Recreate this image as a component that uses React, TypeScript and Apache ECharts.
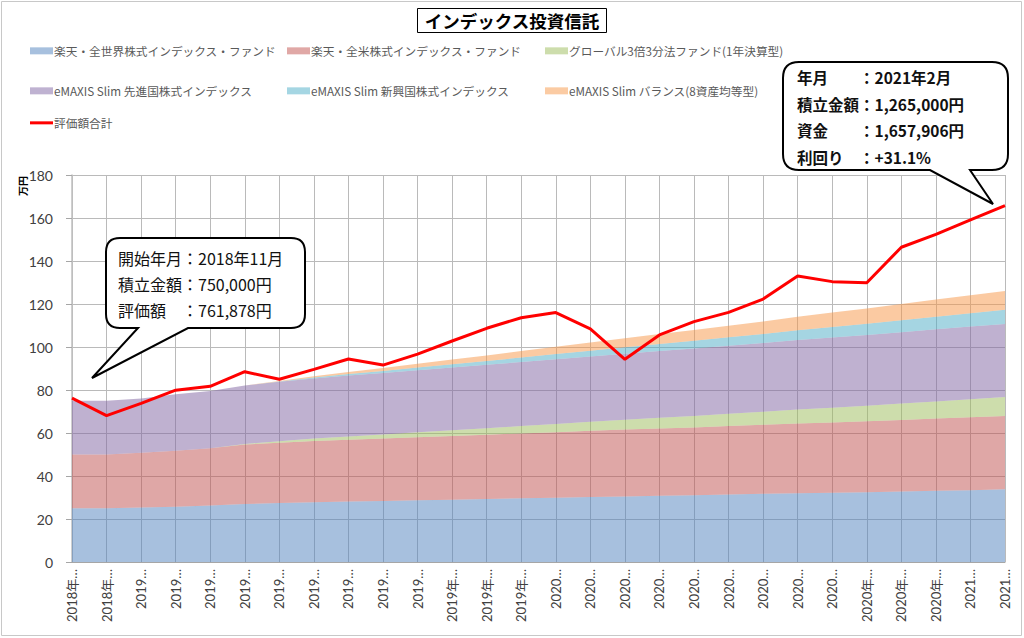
import React, { useEffect, useRef } from "react";
import * as echarts from "echarts";

// ---------- data (unit: 万円) ----------
const categories = [
  "2018年11月", "2018年12月",
  "2019年1月", "2019年2月", "2019年3月", "2019年4月", "2019年5月", "2019年6月",
  "2019年7月", "2019年8月", "2019年9月", "2019年10月", "2019年11月", "2019年12月",
  "2020年1月", "2020年2月", "2020年3月", "2020年4月", "2020年5月", "2020年6月",
  "2020年7月", "2020年8月", "2020年9月", "2020年10月", "2020年11月", "2020年12月",
  "2021年1月", "2021年2月",
];

const seriesNames = [
  "楽天・全世界株式インデックス・ファンド",
  "楽天・全米株式インデックス・ファンド",
  "グローバル3倍3分法ファンド(1年決算型)",
  "eMAXIS Slim 先進国株式インデックス",
  "eMAXIS Slim 新興国株式インデックス",
  "eMAXIS Slim バランス(8資産均等型)",
  "評価額合計",
];

const rakutenWorld = [25, 25, 25.3, 25.7, 26.3, 27.0, 27.4, 27.8, 28.1, 28.4, 28.7, 29.0, 29.3, 29.6, 29.9, 30.2, 30.5, 30.8, 31.1, 31.4, 31.7, 32.0, 32.2, 32.5, 32.8, 33.1, 33.4, 33.8];
const rakutenUS = [25, 25, 25.5, 26.1, 26.6, 27.6, 28.1, 28.5, 28.8, 29.0, 29.3, 29.6, 29.9, 30.2, 30.5, 30.8, 31.1, 31.3, 31.5, 31.8, 32.1, 32.4, 32.7, 33.0, 33.3, 33.6, 33.9, 34.1];
const global3x = [0, 0, 0, 0, 0, 0.3, 0.7, 1.1, 1.5, 1.9, 2.3, 2.7, 3.0, 3.4, 3.8, 4.2, 4.6, 5.0, 5.3, 5.7, 6.1, 6.5, 6.9, 7.2, 7.6, 8.0, 8.4, 8.8];
const slimDeveloped = [25, 25, 25.3, 26.2, 26.6, 27.2, 27.6, 28.0, 28.3, 28.6, 28.9, 29.2, 29.5, 29.8, 30.1, 30.4, 30.7, 31.0, 31.4, 31.7, 32.0, 32.3, 32.6, 32.9, 33.2, 33.5, 33.8, 34.0];
const slimEmerging = [0, 0, 0, 0, 0, 0, 0.2, 0.45, 0.7, 0.95, 1.25, 1.5, 1.8, 2.1, 2.4, 2.7, 3.0, 3.3, 3.6, 3.9, 4.2, 4.6, 4.9, 5.2, 5.6, 5.9, 6.2, 6.6];
const slimBalance = [0, 0, 0, 0, 0, 0, 0.2, 0.6, 1.0, 1.4, 1.8, 2.2, 2.6, 3.0, 3.4, 3.8, 4.2, 4.6, 5.0, 5.4, 5.8, 6.3, 6.7, 7.1, 7.5, 8.0, 8.4, 8.8];
const valuationTotal = [76.2, 68.1, 73.8, 79.9, 81.7, 88.5, 85.0, 89.6, 94.4, 91.6, 96.7, 102.8, 108.7, 113.6, 116.0, 108.4, 94.3, 105.6, 111.8, 116.1, 122.3, 133.0, 130.4, 129.9, 146.4, 152.4, 159.1, 165.8];

const yTicks = { min: 0, max: 180, interval: 20 };

const bubble1Lines = ["開始年月：2018年11月", "積立金額：750,000円", "評価額　：761,878円"];
const bubble2Lines = ["年月　　：2021年2月", "積立金額：1,265,000円", "資金　　：1,657,906円", "利回り　：+31.1%"];

// ---------- styles ----------
const baseColors = ["#4F81BD", "#C0504D", "#9BBB59", "#8064A2", "#4BACC6", "#F79646"];
const lightColors = ["#A7C0DE", "#E0A8A6", "#CDDDAC", "#BFB2D1", "#A5D6E3", "#FBCBA3"];
const JP = '"Noto Sans CJK JP", sans-serif';
const NUM = 'Lato, "Noto Sans CJK JP", sans-serif';

const bubble1Path =
  "M120 238 L291 238 Q305 238 305 252 L305 314 Q305 328 291 328 L188 328 L92 378 L138 328 L120 328 Q106 328 106 314 L106 252 Q106 238 120 238 Z";
const bubble2Path =
  "M799 62 L992 62 Q1008 62 1008 78 L1008 154 Q1008 170 992 170 L970 170 L993 204 L930 170 L799 170 Q783 170 783 154 L783 78 Q783 62 799 62 Z";

let registered = false;
function registerShapes() {
  if (registered) return;
  registered = true;
  echarts.graphic.registerShape("bubble1", echarts.graphic.extendPath(bubble1Path, {}));
  echarts.graphic.registerShape("bubble2", echarts.graphic.extendPath(bubble2Path, {}));
}

function xLabel(v: string) {
  const m = v.match(/^(\d+)年(\d+)月$/);
  if (!m) return v;
  return m[2].length === 2 ? m[1] + "年…" : m[1] + "…";
}

export default function App() {
  const ref = useRef<HTMLDivElement>(null);

  useEffect(() => {
    if (!ref.current) return;
    registerShapes();
    const chart = echarts.init(ref.current, undefined, { renderer: "svg" });

    const areaData = [rakutenWorld, rakutenUS, global3x, slimDeveloped, slimEmerging, slimBalance];
    const areaSeries = areaData.map((d, i) => ({
      name: seriesNames[i],
      type: "line",
      stack: "cost",
      data: d,
      symbol: "none",
      itemStyle: { color: lightColors[i] },
      lineStyle: { width: 0, color: lightColors[i] },
      areaStyle: { color: baseColors[i], opacity: 0.5 },
      z: 2,
    }));

    const legendPos = [
      [30, 45], [287, 45], [545, 45],
      [30, 85], [287, 85], [545, 85],
      [30, 117],
    ];
    const legends = seriesNames.map((n, i) => ({
      data: [{ name: n, itemStyle: { color: i < 6 ? lightColors[i] : "#FF0000" } }],
      left: legendPos[i][0],
      top: legendPos[i][1],
      padding: 0,
      icon: "rect",
      itemWidth: 23,
      itemHeight: i < 6 ? 7 : 3,
      selectedMode: false,
      textStyle: { fontSize: 11.7, color: "#595959", fontFamily: JP, padding: [0, 0, 0, -4] },
    }));

    const bubbleText = (lines: string[], x: number, y0: number, dy: number, size: number, bold: boolean) =>
      lines.map((t, i) => ({
        type: "text",
        x,
        y: y0 + i * dy,
        z: 101,
        style: {
          text: t,
          fill: "#111",
          font: `${bold ? "bold " : ""}${size}px ${JP}`,
          verticalAlign: "middle",
          align: "left",
        },
      }));

    chart.setOption({
      animation: false,
      backgroundColor: "#fff",
      title: {
        text: "インデックス投資信託",
        left: "center",
        top: 8,
        padding: [4, 7, 3, 7],
        borderColor: "#000",
        borderWidth: 1,
        textStyle: { fontSize: 17.5, fontWeight: "bold", color: "#000", fontFamily: JP },
      },
      legend: legends,
      grid: { left: 72, right: 19, top: 175, bottom: 76, containLabel: false },
      xAxis: {
        type: "category",
        data: categories,
        boundaryGap: false,
        axisLine: { lineStyle: { color: "#a6a6a6", width: 1 } },
        axisTick: { show: false },
        splitLine: { show: true, lineStyle: { color: "#bababa", width: 1 } },
        axisLabel: {
          rotate: 90,
          interval: 0,
          margin: 7,
          fontSize: 13,
          color: "#404040",
          fontFamily: NUM,
          formatter: xLabel,
        },
      },
      yAxis: {
        type: "value",
        min: yTicks.min,
        max: yTicks.max,
        interval: yTicks.interval,
        axisLine: { show: true, lineStyle: { color: "#bfbfbf", width: 1.5 } },
        axisTick: { show: true, length: 6, lineStyle: { color: "#a6a6a6" } },
        splitLine: { show: true, lineStyle: { color: "#bababa", width: 1 } },
        axisLabel: { fontSize: 14, color: "#404040", fontFamily: NUM, margin: 19 },
      },
      series: [
        ...areaSeries,
        {
          name: seriesNames[6],
          type: "line",
          data: valuationTotal,
          symbol: "none",
          itemStyle: { color: "#FF0000" },
          lineStyle: { color: "#FF0000", width: 3 },
          z: 5,
        },
      ],
      graphic: [
        {
          type: "rect",
          z: 0,
          shape: { x: 1.5, y: 1.5, width: 1020, height: 634 },
          style: { fill: "none", stroke: "#c8c8c8", lineWidth: 1 },
        },
        {
          type: "text",
          x: 17,
          y: 196,
          rotation: Math.PI / 2,
          z: 100,
          style: { text: "万円", font: `bold 10px ${JP}`, fill: "#000" },
        },
        {
          type: "bubble1",
          x: 0,
          y: 0,
          z: 100,
          style: { fill: "#fff", stroke: "#000", lineWidth: 2 },
        },
        {
          type: "bubble2",
          x: 0,
          y: 0,
          z: 100,
          style: { fill: "#fff", stroke: "#000", lineWidth: 2 },
        },
        ...bubbleText(bubble1Lines, 118, 258, 26, 16, false),
        ...bubbleText(bubble2Lines, 797, 77, 26.7, 15.5, true),
      ],
    });

    return () => chart.dispose();
  }, []);

  return (
    <div
      ref={ref}
      style={{ position: "absolute", left: 0, top: 0, width: 1024, height: 638 }}
    />
  );
}
